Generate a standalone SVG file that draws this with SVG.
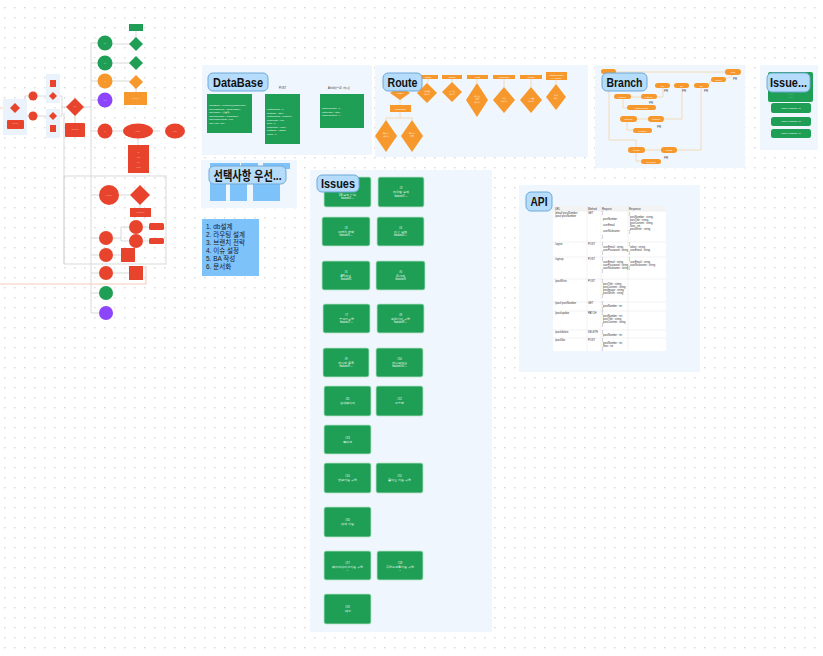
<svg xmlns="http://www.w3.org/2000/svg" width="823" height="656" viewBox="0 0 823 656">
<defs>
<pattern id="dots" x="4" y="7" width="10" height="10" patternUnits="userSpaceOnUse"><circle cx="0.8" cy="0.8" r="0.7" fill="#c9c9c9"/></pattern>
<style>
.panel{fill:#eff6fd;}
.lbl{fill:#b5dcfb;stroke:#6fa9d8;stroke-width:1;}
.lt{font-family:"Liberation Sans",Arial,sans-serif;font-weight:bold;font-size:13px;fill:#111;}
.kr{font-family:"Liberation Sans","Noto Sans CJK KR",sans-serif;}
.red{fill:#e8432c;}
.grn{fill:#1f9f55;}
.org{fill:#f7982c;}
.pur{fill:#8c45fb;}
.card{fill:#1f9f55;stroke:#b9e4c9;stroke-width:0.8;}
.tw{font-family:"Liberation Sans",sans-serif;font-size:2.6px;fill:#fff;text-anchor:middle;}
.tk{font-family:"Liberation Sans",sans-serif;font-size:2.6px;fill:#333;}
.ln{stroke:#d9d9d9;stroke-width:1;fill:none;}
.bl{stroke:#f2dcb9;stroke-width:1;fill:none;}
.pill{fill:#f7982c;}
.pr{font-family:"Liberation Sans",sans-serif;font-size:3px;fill:#444;}
.tl{stroke:#e6e6e6;stroke-width:0.5;}
</style>
</defs>
<rect width="823" height="656" fill="#ffffff"/>
<rect width="823" height="656" fill="url(#dots)"/>

<!-- connectors -->
<g id="connectors">
<line x1="0" y1="108" x2="9" y2="108" stroke="#f6c9b7" stroke-width="1"/>
<path class="ln" d="M15,108 H25 M25,96 V116 M25,96 H29 M25,116 H29"/>
<path class="ln" d="M37,96 H48 M37,116 H48 M58,96 H62 M58,116 H62 M62,96 V116 M62,107 H61"/>
<path class="ln" d="M62,107 H89 M75,114 V123 M89,107 H91"/>
<path class="ln" d="M91,43 V313 M91,43 H98 M91,63 H98 M91,81 H98 M91,100 H98 M91,131 H98"/>
<path class="ln" d="M112,44 H130 M112,63 H130 M112,81 H130 M136,31 V38 M136,88 V92"/>
<path class="ln" d="M112,131 H123 M153,131 H160 M138,138 V145"/>
<path class="ln" d="M64,113 V264 M149,175 V176"/>
<rect x="64" y="176" width="102" height="88" class="ln"/>
<path class="ln" d="M91,195 H99 M119,195 H130 M140,205 V208"/>
<path class="ln" d="M91,238 H99 M113,238 H121 M121,227 V241 M121,227 H129 M121,241 H129 M143,227 H149 M143,241 H149"/>
<path class="ln" d="M91,255 H99 M113,255 H121 M91,273 H99 M113,273 H129 M91,293 H99 M91,313 H99"/>
<path d="M0,284 H146 V266" stroke="#f6c9b7" stroke-width="1" fill="none"/>
</g>

<!-- left flowchart -->
<g id="flow-left">
<rect x="3" y="99" width="24" height="36" fill="#eaf3fc"/>
<rect x="46" y="74" width="14" height="29" fill="#eaf3fc"/>
<rect x="46" y="109" width="14" height="29" fill="#eaf3fc"/>
<polygon class="red" points="15,103 20,108 15,113 10,108"/>
<rect class="red" x="7" y="120" width="17" height="9" rx="1"/>
<text class="tw" x="15.5" y="124">........</text>
<circle class="red" cx="33" cy="96" r="4.5"/>
<circle class="red" cx="33" cy="116" r="4.5"/>
<rect class="red" x="50" y="80" width="6" height="7"/>
<polygon class="red" points="53,92 57,96 53,100 49,96"/>
<polygon class="red" points="53,112 57,116 53,120 49,116"/>
<rect class="red" x="50" y="125" width="6" height="7"/>
<polygon class="red" points="75,98 84,107 75,116 66,107"/>
<text class="tw" x="75" y="107">....</text>
<rect class="red" x="65" y="123" width="20" height="14" rx="1"/>
<text class="tw" x="75" y="130">..........</text>
</g>
<g id="flow-right">
<circle class="grn" cx="105" cy="43" r="7.5"/>
<circle class="grn" cx="105" cy="63" r="7.5"/>
<circle class="org" cx="105" cy="81" r="7.5"/>
<circle class="pur" cx="105" cy="100" r="7.5"/>
<circle class="red" cx="105" cy="131" r="7.5"/>
<text class="tw" x="105" y="44">...</text>
<text class="tw" x="105" y="64">...</text>
<text class="tw" x="105" y="82">..</text>
<text class="tw" x="105" y="101">....</text>
<text class="tw" x="105" y="132">..</text>
<rect class="grn" x="129" y="24" width="14" height="7"/>
<polygon class="grn" points="136,37 143,44 136,51 129,44"/>
<polygon class="grn" points="136,56 143,63 136,70 129,63"/>
<polygon class="org" points="136,75 143,82 136,89 129,82"/>
<rect class="org" x="124" y="92" width="23" height="13"/>
<text class="tw" x="135.5" y="99">..........</text>
<ellipse class="red" cx="138" cy="131" rx="15" ry="7.5"/>
<ellipse class="red" cx="175" cy="131" rx="10" ry="7.5"/>
<text class="tw" x="138" y="132">.......</text>
<text class="tw" x="175" y="132">.....</text>
<rect class="red" x="128" y="145" width="21" height="28"/>
<text class="tw" x="138.5" y="153">...</text>
<text class="tw" x="138.5" y="158">.....</text>
<text class="tw" x="138.5" y="163">....</text>
<text class="tw" x="138.5" y="168">......</text>
<circle class="red" cx="109" cy="195" r="10"/>
<text class="tw" x="109" y="196">........</text>
<polygon class="red" points="140,185 150,195 140,205 130,195"/>
<rect class="red" x="130" y="208" width="21" height="9"/>
<text class="tw" x="140.5" y="213">...........</text>
<circle class="red" cx="136" cy="227" r="7"/>
<circle class="red" cx="136" cy="241" r="7"/>
<rect class="red" x="149" y="223" width="15" height="7" rx="1.5"/>
<rect class="red" x="149" y="238" width="15" height="6" rx="1.5"/>
<circle class="red" cx="106" cy="238" r="7"/>
<circle class="red" cx="106" cy="255" r="7"/>
<circle class="red" cx="106" cy="273" r="7"/>
<rect class="red" x="121" y="248" width="14" height="14"/>
<rect class="red" x="129" y="266" width="14" height="14"/>
<circle class="grn" cx="106" cy="293" r="7"/>
<circle class="pur" cx="106" cy="313" r="7"/>
</g>

<!-- DataBase -->
<g id="database">
<rect class="panel" x="202" y="65" width="170" height="90"/>
<rect class="grn" x="207" y="94" width="45" height="39"/>
<rect class="grn" x="265" y="94" width="35" height="50"/>
<rect class="grn" x="320" y="94" width="44" height="34"/>
<text class="tk" x="279" y="89">POST</text>
<text class="tk" x="328" y="89">Article(본문 게시)</text>
<g font-family="Liberation Sans,sans-serif" font-size="2.4" fill="#fff">
<text x="209" y="106">userEmail : "example@gmail.com",</text>
<text x="209" y="109.5">userPassword : "abcdef1234",</text>
<text x="209" y="113">userName : "홍길동",</text>
<text x="209" y="116.5">userNickname : "nickname",</text>
<text x="209" y="120">userProfileImage : null,</text>
<text x="209" y="123.5">userAuth : true</text>
<text x="267" y="110">postNumber : 1,</text>
<text x="267" y="113.5">postTitle : "title",</text>
<text x="267" y="117">postContent : "content",</text>
<text x="267" y="120.5">postImage : null,</text>
<text x="267" y="124">likes : 0,</text>
<text x="267" y="127.5">postWriter : "nick",</text>
<text x="267" y="131">postDate : "2023",</text>
<text x="267" y="134.5">views : 0</text>
<text x="322" y="109">articleNumber : 1,</text>
<text x="322" y="112.5">articleTitle : "title",</text>
<text x="322" y="116">articleContent : ""</text>
</g>
<rect class="lbl" x="208" y="73" width="60" height="18" rx="5"/>
<text class="lt" x="238" y="86.5" text-anchor="middle" textLength="50" lengthAdjust="spacingAndGlyphs">DataBase</text>
</g>

<!-- Route -->
<g id="route">
<rect class="panel" x="375" y="65" width="213" height="92"/>
<g class="bl">
<path d="M400,86 V105 M400,112 V118 M386,118 H412 M386,118 V120 M412,118 V120"/>
<path d="M428,79 V83 M452,79 V82 M477,79 V83 M504,79 V87 M531,79 V87 M556,80 V84"/>
</g>
<rect class="org" x="418" y="75" width="20" height="4"/>
<rect class="org" x="442" y="75" width="20" height="4"/>
<rect class="org" x="467" y="75" width="21" height="4"/>
<rect class="org" x="493" y="75" width="22" height="4"/>
<rect class="org" x="520" y="75" width="22" height="4"/>
<rect class="org" x="546" y="72" width="21" height="8"/>
<polygon class="org" points="427,83 437,93 427,103 417,93"/>
<polygon class="org" points="452,82 462,92 452,102 442,92"/>
<polygon class="org" points="477,83 488,100 477,117 466,100"/>
<polygon class="org" points="504,87 515,100 504,113 493,100"/>
<polygon class="org" points="531,87 542,100 531,113 520,100"/>
<polygon class="org" points="556,84 566,97 556,110 546,97"/>
<polygon class="org" points="400,86 410,93 400,100 390,93"/>
<rect class="org" x="390" y="105" width="21" height="7"/>
<polygon class="org" points="386,120 397,136 386,152 375,136"/>
<polygon class="org" points="412,120 423,136 412,152 401,136"/>
<g font-family="Liberation Sans,sans-serif" font-size="2.4" fill="#fff" text-anchor="middle">
<text x="428" y="78">/detail</text><text x="452" y="78">/signin</text><text x="477.5" y="78">/post</text>
<text x="504" y="78">/postWrite</text><text x="531" y="78">/profile</text><text x="556.5" y="75.5">/detail/:postN</text><text x="556.5" y="78.5">o / delete</text>
<text x="427" y="92">상세 글</text><text x="427" y="95">페이지</text><text x="452" y="92">로그인</text><text x="452" y="95">페이지</text>
<text x="477" y="97">게시판</text><text x="477" y="100">목록</text><text x="477" y="103">페이지</text>
<text x="504" y="99">작성</text><text x="504" y="102">페이지</text><text x="531" y="99">프로필</text><text x="531" y="102">페이지</text>
<text x="556" y="96">삭제</text><text x="556" y="99">처리</text>
<text x="400" y="94">/main</text><text x="400.5" y="109.5">/bookmark</text>
<text x="386" y="134">북마크</text><text x="386" y="137">페이지</text><text x="412" y="134">북마크</text><text x="412" y="137">목록</text>
</g>
<rect class="lbl" x="383" y="73" width="39" height="18" rx="5"/>
<text class="lt" x="402.5" y="86.5" text-anchor="middle" textLength="30" lengthAdjust="spacingAndGlyphs">Route</text>
</g>

<!-- Branch -->
<g id="branch">
<rect class="panel" x="595" y="65" width="150" height="103"/>
<g class="bl">
<path d="M616,72 H725"/>
<path d="M609,74 V140 H636 V147"/>
<path d="M726,79 L733,75"/>
<path d="M709,85 L711,80"/>
<path d="M631,97 H641 M657,97 H663 V88"/>
<path d="M623,99 V108 H627"/>
<path d="M637,119 H648 M664,119 H682 V88"/>
<path d="M627,122 V130 H633"/>
<path d="M645,150 H661 M677,150 H701 V88"/>
<path d="M636,153 V161 H641"/>
</g>
<rect class="pill" x="601" y="69" width="15" height="5" rx="2.5"/>
<rect class="pill" x="725" y="69" width="16" height="6" rx="3"/>
<rect class="pill" x="711" y="77" width="15" height="5" rx="2.5"/>
<rect class="pill" x="655" y="83" width="15" height="5" rx="2.5"/>
<rect class="pill" x="674" y="83" width="15" height="5" rx="2.5"/>
<rect class="pill" x="694" y="83" width="15" height="5" rx="2.5"/>
<rect class="pill" x="614" y="94" width="17" height="5" rx="2.5"/>
<rect class="pill" x="641" y="94" width="16" height="5" rx="2.5"/>
<rect class="pill" x="627" y="105" width="29" height="5" rx="2.5"/>
<rect class="pill" x="620" y="116" width="17" height="6" rx="3"/>
<rect class="pill" x="648" y="116" width="16" height="6" rx="3"/>
<rect class="pill" x="633" y="128" width="19" height="5" rx="2.5"/>
<rect class="pill" x="628" y="147" width="17" height="6" rx="3"/>
<rect class="pill" x="661" y="147" width="16" height="6" rx="3"/>
<rect class="pill" x="641" y="159" width="20" height="5" rx="2.5"/>
<g font-family="Liberation Sans,sans-serif" font-size="2" fill="#fff" text-anchor="middle">
<text x="733" y="73">main</text><text x="718.5" y="80.5">release</text><text x="662.5" y="86.5">dev</text><text x="681.5" y="86.5">dev</text><text x="701.5" y="86.5">dev</text>
<text x="622.5" y="97.5">feature/1</text><text x="649" y="97.5">feature/1</text><text x="641.5" y="108.5">feature/commit</text>
<text x="628.5" y="120">feature/2</text><text x="656" y="120">feature/2</text><text x="642.5" y="131.5">fix/feature</text>
<text x="636.5" y="151">fix/auth</text><text x="669" y="151">fix/auth</text><text x="651" y="162.5">fix/commit</text>
</g>
<text class="pr" x="733" y="80">PR</text>
<text class="pr" x="664" y="92">PR</text>
<text class="pr" x="682" y="92">PR</text>
<text class="pr" x="704" y="92">PR</text>
<text class="pr" x="649" y="104">PR</text>
<text class="pr" x="657" y="128">PR</text>
<text class="pr" x="664" y="159">PR</text>
<rect class="lbl" x="602" y="73" width="45" height="18" rx="5"/>
<text class="lt" x="624.5" y="86.5" text-anchor="middle" textLength="36" lengthAdjust="spacingAndGlyphs">Branch</text>
</g>

<!-- Issue right -->
<g id="issue-templates">
<rect class="panel" x="760" y="65" width="58" height="85"/>
<rect class="grn" x="768" y="72" width="45" height="30" rx="2"/>
<g font-family="Liberation Sans,sans-serif" font-size="2.3" fill="#fff" text-anchor="middle">
<text x="790.5" y="95">..........</text><text x="790.5" y="98">.......</text>
</g>
<rect class="grn" x="771" y="103" width="40" height="10" rx="2.5"/>
<rect class="grn" x="771" y="117" width="40" height="9" rx="2.5"/>
<rect class="grn" x="771" y="129" width="40" height="9" rx="2.5"/>
<g font-family="Liberation Sans,sans-serif" font-size="2.3" fill="#fff" text-anchor="middle">
<text x="791" y="108.8">name: template #3</text><text x="791" y="122.3">name: template #2</text><text x="791" y="134.3">name: template #1</text>
</g>
<rect class="lbl" x="767" y="73" width="43" height="19" rx="5"/>
<text class="lt" x="788.5" y="87" text-anchor="middle" textLength="37" lengthAdjust="spacingAndGlyphs">Issue...</text>
</g>

<!-- 선택사항 우선 -->
<g id="priority">
<rect class="panel" x="201" y="160" width="96" height="48"/>
<rect x="210" y="163" width="30" height="6" fill="#7ec2fa"/>
<rect x="241" y="163" width="17" height="6" fill="#7ec2fa"/>
<rect x="263" y="163" width="27" height="6" fill="#7ec2fa"/>
<rect x="210" y="181" width="16" height="20" fill="#7ec2fa"/>
<rect x="230" y="181" width="17" height="20" fill="#7ec2fa"/>
<rect x="253" y="181" width="27" height="20" fill="#7ec2fa"/>
<rect class="lbl" x="209" y="166" width="77" height="18" rx="5"/>
<text class="lt kr" x="247.5" y="179.5" text-anchor="middle" textLength="68" lengthAdjust="spacingAndGlyphs">선택사항 우선...</text>
</g>
<g id="todo">
<rect x="202" y="219" width="57" height="57" fill="#7ec2fa"/>
<g class="kr" font-size="6.5" fill="#1a1a1a">
<text x="206" y="229">1. db설계</text>
<text x="206" y="237">2. 라우팅 설계</text>
<text x="206" y="245">3. 브랜치 전략</text>
<text x="206" y="253">4. 이슈 설정</text>
<text x="206" y="261">5. BA 작성</text>
<text x="206" y="269">6. 문서화</text>
</g>
</g>

<!-- Issues -->
<g id="issues">
<rect class="panel" x="310" y="170" width="182" height="462"/>
<rect class="card" x="324" y="177" width="47" height="30" rx="2"/>
<rect class="card" x="378" y="177" width="46" height="30" rx="2"/>
<rect class="card" x="322" y="217" width="48" height="29" rx="2"/>
<rect class="card" x="377" y="217" width="47" height="29" rx="2"/>
<rect class="card" x="322" y="261" width="48" height="29" rx="2"/>
<rect class="card" x="376" y="261" width="49" height="29" rx="2"/>
<rect class="card" x="323" y="304" width="47" height="29" rx="2"/>
<rect class="card" x="377" y="304" width="47" height="29" rx="2"/>
<rect class="card" x="323" y="348" width="46" height="29" rx="2"/>
<rect class="card" x="376" y="348" width="47" height="29" rx="2"/>
<rect class="card" x="324" y="386" width="47" height="30" rx="2"/>
<rect class="card" x="376" y="386" width="47" height="30" rx="2"/>
<rect class="card" x="324" y="425" width="47" height="29" rx="2"/>
<rect class="card" x="324" y="463" width="47" height="30" rx="2"/>
<rect class="card" x="376" y="463" width="47" height="30" rx="2"/>
<rect class="card" x="324" y="507" width="47" height="30" rx="2"/>
<rect class="card" x="324" y="551" width="47" height="29" rx="2"/>
<rect class="card" x="377" y="551" width="46" height="29" rx="2"/>
<rect class="card" x="324" y="594" width="47" height="30" rx="2"/>
<g class="tw">
<text x="347.5" y="195.5">DB 설계 논의</text><text x="347.5" y="199">feature/1 ...</text>
<text x="401" y="189">#2</text><text x="401" y="193">라우팅 설계</text><text x="401" y="196.5">feature/2 ...</text>
<text x="346" y="229">#3</text><text x="346" y="232.5">브랜치 전략</text><text x="346" y="236">feature/3 ...</text>
<text x="400.5" y="229">#4</text><text x="400.5" y="232.5">이슈 설정</text><text x="400.5" y="236">feature/4 ...</text>
<text x="346" y="273">#5</text><text x="346" y="276.5">API 작성</text><text x="346" y="280">feature/5</text>
<text x="400.5" y="273">#6</text><text x="400.5" y="276.5">문서화</text><text x="400.5" y="280">feature/6</text>
<text x="346.5" y="316">#7</text><text x="346.5" y="319.5">로그인 구현</text><text x="346.5" y="323">feature/7 ...</text>
<text x="400.5" y="316">#8</text><text x="400.5" y="319.5">회원가입 구현</text><text x="400.5" y="323">feature/8 ...</text>
<text x="346" y="360">#9</text><text x="346" y="363.5">게시판 목록</text><text x="346" y="367">feature/9 ...</text>
<text x="399.5" y="360">#10</text><text x="399.5" y="363.5">게시글 작성</text><text x="399.5" y="367">feature/10 ...</text>
<text x="347.5" y="400">#11</text><text x="347.5" y="403.5">상세 페이지</text>
<text x="399.5" y="400">#12</text><text x="399.5" y="403.5">프로필</text>
<text x="347.5" y="439">#13</text><text x="347.5" y="442.5">북마크</text>
<text x="347.5" y="477">#14</text><text x="347.5" y="480.5">댓글 기능 구현</text>
<text x="399.5" y="477">#15</text><text x="399.5" y="480.5">좋아요 기능 구현</text>
<text x="347.5" y="521">#16</text><text x="347.5" y="524.5">검색 기능</text>
<text x="347.5" y="564">#17</text><text x="347.5" y="567.5">페이지네이션 기능 구현</text><text x="347.5" y="571">...</text>
<text x="400" y="564">#18</text><text x="400" y="567.5">무한스크롤 기능 구현</text><text x="400" y="571">...</text>
<text x="347.5" y="608">#19</text><text x="347.5" y="611.5">배포</text>
</g>
<rect class="lbl" x="317" y="175" width="42" height="17" rx="5"/>
<text class="lt" x="338" y="188" text-anchor="middle" textLength="34" lengthAdjust="spacingAndGlyphs">Issues</text>
</g>

<!-- API -->
<g id="api">
<rect class="panel" x="519" y="185" width="181" height="187"/>
<rect x="553" y="206" width="113" height="145" fill="#ffffff"/>
<rect x="553" y="206" width="113" height="5" fill="#f3f3f3"/>
<g class="tl">
<line x1="587" y1="206" x2="587" y2="351"/><line x1="601" y1="206" x2="601" y2="351"/><line x1="628" y1="206" x2="628" y2="351"/>
<line x1="553" y1="211" x2="666" y2="211"/><line x1="553" y1="242" x2="666" y2="242"/><line x1="553" y1="257" x2="666" y2="257"/>
<line x1="553" y1="279" x2="666" y2="279"/><line x1="553" y1="302" x2="666" y2="302"/><line x1="553" y1="311" x2="666" y2="311"/>
<line x1="553" y1="330" x2="666" y2="330"/><line x1="553" y1="338" x2="666" y2="338"/>
</g>
<g class="tk" font-size="2.2">
<text x="555" y="209.5">URL</text><text x="588" y="209.5">Method</text><text x="602" y="209.5">Request</text><text x="629" y="209.5">Response</text>
<text x="555" y="214">/detail/:postNumber</text><text x="555" y="217">/post/:postNumber</text><text x="588" y="214">GET</text>
<text x="602" y="214">{</text><text x="603" y="220">postNumber</text><text x="603" y="226">userEmail</text><text x="603" y="232">userNickname</text><text x="602" y="238">}</text>
<text x="629" y="215">{</text><text x="630" y="218">postNumber : string,</text><text x="630" y="221">postTitle : string,</text><text x="630" y="224">postContent : string,</text><text x="630" y="227">likes : int,</text><text x="630" y="230">postWriter : string</text><text x="629" y="233">}</text>
<text x="555" y="245">/signin</text><text x="588" y="245">POST</text>
<text x="602" y="245">{</text><text x="603" y="248">userEmail : string,</text><text x="603" y="251">userPassword : string</text><text x="602" y="254">}</text>
<text x="629" y="245">{</text><text x="630" y="248">token : string,</text><text x="630" y="251">userEmail : string</text><text x="629" y="254">}</text>
<text x="555" y="260">/signup</text><text x="588" y="260">POST</text>
<text x="602" y="260">{</text><text x="603" y="263">userEmail : string,</text><text x="603" y="266">userPassword : string,</text><text x="603" y="269">userNickname : string</text><text x="602" y="272">}</text>
<text x="629" y="260">{</text><text x="630" y="263">userEmail : string,</text><text x="630" y="266">userNickname : string</text><text x="629" y="269">}</text>
<text x="555" y="282">/postWrite</text><text x="588" y="282">POST</text>
<text x="602" y="282">{</text><text x="603" y="285">postTitle : string,</text><text x="603" y="288">postContent : string,</text><text x="603" y="291">postImage : string,</text><text x="603" y="294">postWriter : string</text><text x="602" y="297">}</text>
<text x="555" y="304">/post/:postNumber</text><text x="588" y="304">GET</text><text x="602" y="304">{</text><text x="603" y="307">postNumber : int</text><text x="602" y="310">}</text>
<text x="555" y="314">/post/update</text><text x="588" y="314">PATCH</text><text x="602" y="314">{</text><text x="603" y="317">postNumber : int,</text><text x="603" y="320">postTitle : string,</text><text x="603" y="323">postContent : string</text><text x="602" y="326">}</text>
<text x="555" y="333">/post/delete</text><text x="588" y="333">DELETE</text><text x="602" y="333">{</text><text x="603" y="336">postNumber : int</text>
<text x="555" y="341">/post/like</text><text x="588" y="341">POST</text><text x="602" y="341">{</text><text x="603" y="344">postNumber : int,</text><text x="603" y="347">likes : int</text><text x="602" y="350">}</text>
</g>
<rect class="lbl" x="526" y="192" width="26" height="19" rx="5"/>
<text class="lt" x="539" y="206" text-anchor="middle" textLength="17" lengthAdjust="spacingAndGlyphs">API</text>
</g>
</svg>
